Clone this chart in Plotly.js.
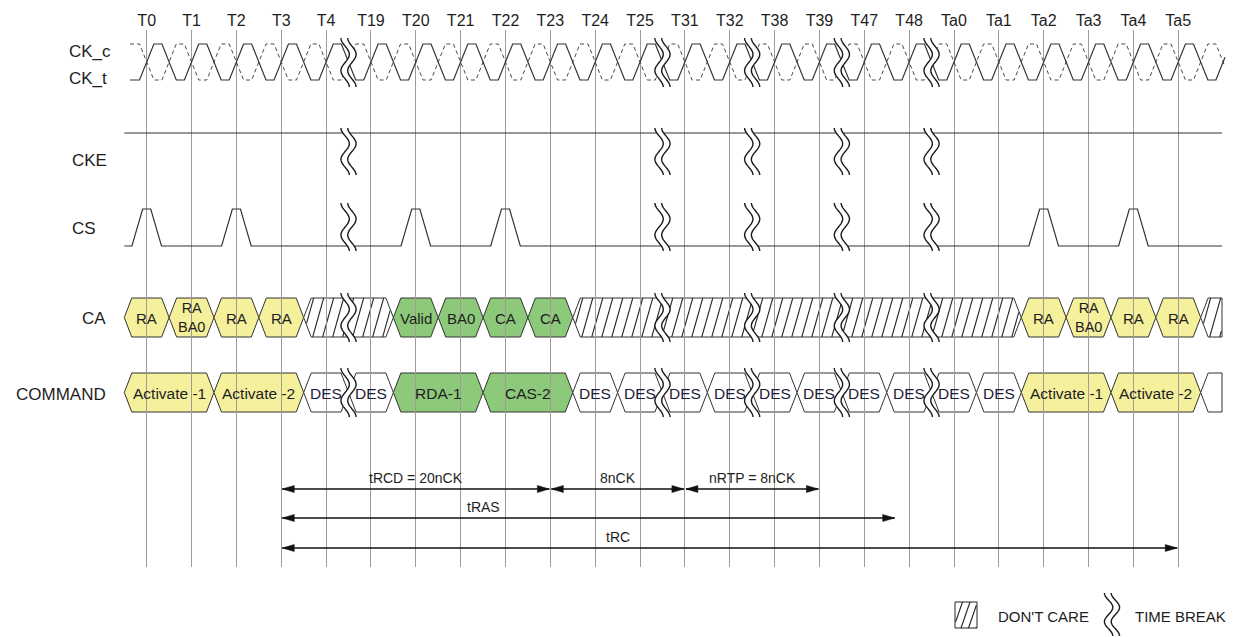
<!DOCTYPE html>
<html><head><meta charset="utf-8">
<script src="https://cdn.plot.ly/plotly-3.0.1.min.js"></script>
<style>html,body{margin:0;padding:0;background:#fff}#chart{width:1237px;height:637px}</style>
</head><body><div id="chart"></div>
<script>
// ---------------- data ----------------
const tickLabels = ['T0','T1','T2','T3','T4','T19','T20','T21','T22','T23','T24','T25','T31','T32','T38','T39','T47','T48','Ta0','Ta1','Ta2','Ta3','Ta4','Ta5'];
const rowLabels = ['CK_c','CK_t','CKE','CS','CA','COMMAND'];
const breakAfter = [4, 11, 13, 15, 17];          // time break between tick i and i+1
const csPulses = [0, 2, 6, 8, 20, 22];           // CS pulses at these ticks
const caLabels = ['RA','RA<br>BA0','RA','RA','','Valid','BA0','CA','CA','','RA','RA<br>BA0','RA','RA',''];
const caFirst  = [0,1,2,3,4,6,7,8,9,10,20,21,22,23,24];
const caLast   = [0,1,2,3,5,6,7,8,9,19,20,21,22,23,24];
const caKind   = ['act','act','act','act','x','rd','rd','rd','rd','x','act','act','act','act','x'];
const cmdLabels = ['Activate -1','Activate -2','DES','DES','RDA-1','CAS-2','DES','DES','DES','DES','DES','DES','DES','DES','DES','DES','Activate -1','Activate -2',''];
const cmdFirst  = [0,2,4,5,6,8,10,11,12,13,14,15,16,17,18,19,20,22,24];
const cmdLast   = [1,3,4,5,7,9,10,11,12,13,14,15,16,17,18,19,21,23,24];
const cmdKind   = ['act','act','des','des','rd','rd','des','des','des','des','des','des','des','des','des','des','act','act','des'];
const arrowLabels  = ['tRCD = 20nCK','8nCK','nRTP = 8nCK','tRAS','tRC'];
const arrowFrom    = [3, 9, 12, 3, 3];
const arrowTo      = [9, 12, 15, 16.7, 23];
const arrowLabelAt = [6, 10.5, 13.5, 7.5, 10.5];
const legendLabels = ["DON'T CARE", 'TIME BREAK'];

// ---------------- layout constants ----------------
const W = 1237, H = 637, X0 = 146.7, P = 44.85;
const PLOT_TOP = 30, PLOT_BOT = 567;
const ix = p => (p - X0) / P;             // pixel -> cycle units
const px = i => X0 + i * P;               // cycle units -> pixel (geometry helpers)
const xpap = p => p / W;
const ypap = p => (PLOT_BOT - p) / (PLOT_BOT - PLOT_TOP);
const ident = v => v;
const FONT = 'Liberation Sans, Arial, sans-serif';
const INK = '#1e1e1e';
const ROW_START = -0.5, ROW_END = ix(1222);
const CK_START = ix(130), CK_END = ix(1225);
const CK_HI = 44, CK_LO = 80, CKE_Y = 133, CS_HI = 209, CS_LO = 246;
const CA_T = 298, CA_B = 337, CMD_T = 373, CMD_B = 412, SLANT = 7.5;
const FILL = {act: '#f4f09c', rd: '#8dc97a', des: '#ffffff', x: '#ffffff'};
const shapes = [], annotations = [];

// ---------------- clock ----------------
function clockWave(inv) {
  const hi = inv ? CK_LO : CK_HI, lo = inv ? CK_HI : CK_LO;
  const pts = [[CK_START, lo]];
  for (let k = 0; k <= tickLabels.length; k++) {
    [[k - 0.16, lo], [k + 0.16, hi], [k + 0.34, hi], [k + 0.66, lo], [k + 0.84, lo]].forEach(p => pts.push(p));
  }
  const xs = [], ys = [];
  for (let j = 0; j < pts.length; j++) {
    const [x, y] = pts[j];
    if (x <= CK_END) { xs.push(x); ys.push(y); }
    else { const [xp, yp] = pts[j - 1]; const t = (CK_END - xp) / (x - xp); xs.push(CK_END); ys.push(yp + t * (y - yp)); break; }
  }
  return {xs, ys};
}
const ckT = clockWave(false), ckC = clockWave(true);

// ---------------- CS ----------------
const csX = [ROW_START], csY = [CS_LO];
csPulses.forEach(p => { csX.push(p - 0.33, p - 0.09, p + 0.09, p + 0.33); csY.push(CS_LO, CS_HI, CS_HI, CS_LO); });
csX.push(ROW_END); csY.push(CS_LO);

const traces = [
  {x: ckC.xs, y: ckC.ys, mode: 'lines', line: {color: '#4a4a4a', width: 1, dash: '4px,3px'}},
  {x: ckT.xs, y: ckT.ys, mode: 'lines', line: {color: '#333', width: 1.2}},
  {x: [ROW_START, ROW_END], y: [CKE_Y, CKE_Y], mode: 'lines', line: {color: '#333', width: 1.2}},
  {x: csX, y: csY, mode: 'lines', line: {color: '#333', width: 1.2}}
];

// ---------------- helpers ----------------
function pathStr(pts, cx, cy, close) {
  return pts.map((p, k) => (k ? 'L' : 'M') + cx(p[0]).toFixed(5) + ',' + cy(p[1]).toFixed(5)).join(' ') + (close ? ' Z' : '');
}
function hexPath(L, R, T, B, open) {
  const s = SLANT / P, M = (T + B) / 2;
  const pts = [[L, M], [L + s, T]];
  if (open) pts.push([R, T], [R, B]); else pts.push([R - s, T], [R, M], [R - s, B]);
  pts.push([L + s, B]);
  return pathStr(pts, ident, ident, true);
}
function hatchSegs(Lp, Rp, T, B, s, open, spacing, lean) {
  const M = (T + B) / 2, h2 = (B - T) / 2, segs = [];
  for (let xb = Lp - lean; xb < Rp; xb += spacing) {
    let a = null, b = null;
    for (let k = 0; k <= 200; k++) {
      const t = k / 200, y = B - t * (B - T), x = xb + t * lean;
      const f = Math.abs(y - M) / h2;
      const l = Lp + s * f, r = open ? Rp : Rp - s * f;
      if (x >= l + 0.6 && x <= r - 0.6) { if (a === null) a = t; b = t; }
    }
    if (a !== null && b > a) segs.push([[xb + a * lean, B - a * (B - T)], [xb + b * lean, B - b * (B - T)]]);
  }
  return segs;
}
function segPath(segs, cx, cy) { return segs.map(sg => pathStr(sg, cx, cy, false)).join(' '); }

function addBreak(xcPx, y1, y2, cx, cy, refs) {
  const A = 4.2, off = 3.4, n = 30;
  const curve = o => Array.from({length: n + 1}, (_, k) => { const f = k / n; return [xcPx + o - A * Math.cos(3 * Math.PI * f), y1 + f * (y2 - y1)]; });
  const c1 = curve(-off), c2 = curve(off);
  shapes.push(Object.assign({type: 'path', layer: 'above', path: pathStr(c1.concat(c2.slice().reverse()), cx, cy, true), fillcolor: '#ffffff', line: {width: 0}}, refs));
  shapes.push(Object.assign({type: 'path', layer: 'above', path: pathStr(c1, cx, cy, false), line: {color: '#1a1a1a', width: 1.4}}, refs));
  shapes.push(Object.assign({type: 'path', layer: 'above', path: pathStr(c2, cx, cy, false), line: {color: '#1a1a1a', width: 1.4}}, refs));
}

function addCells(first, last, kind, labels, T, B, size) {
  for (let i = 0; i < first.length; i++) {
    let L = first[i] - 0.5, R = last[i] + 0.5, open = false;
    if (R > ROW_END) { R = ROW_END; open = true; }
    shapes.push({type: 'path', xref: 'x', yref: 'y', layer: 'below', path: hexPath(L, R, T, B, open), fillcolor: FILL[kind[i]], line: {color: '#333', width: 1}});
    if (kind[i] === 'x') {
      const segs = hatchSegs(px(L), px(R), T, B, SLANT, open, 10, 11);
      shapes.push({type: 'path', xref: 'x', yref: 'y', layer: 'below', path: segPath(segs, ix, ident), line: {color: '#2a2a2a', width: 1.1}});
    }
    if (labels[i]) {
      const two = labels[i].indexOf('<br>') >= 0, c = (first[i] + last[i]) / 2, M = (T + B) / 2;
      annotations.push({x: c, y: M + (two ? -0.5 : 0.5), xref: 'x', yref: 'y', text: labels[i], showarrow: false,
        xanchor: 'center', yanchor: 'middle', font: {family: FONT, size: two ? 14.5 : size, color: kind[i] === 'des' ? '#1c1c38' : INK}});
    }
  }
}
addCells(caFirst, caLast, caKind, caLabels, CA_T, CA_B, 15);
addCells(cmdFirst, cmdLast, cmdKind, cmdLabels, CMD_T, CMD_B, 15.5);

// time breaks
const bands = [[38, 87], [128, 175], [203, 251], [293, 342], [368, 417]];
breakAfter.forEach(b => bands.forEach(([y1, y2]) => addBreak(px(b + 0.5), y1, y2, ix, ident, {xref: 'x', yref: 'y'})));

// row labels
const rowLabelX = [67, 67, 70, 70, 80, 14], rowLabelY = [51, 78, 160, 228, 318, 394];
rowLabels.forEach((t, i) => annotations.push({x: ix(rowLabelX[i]), y: rowLabelY[i], xref: 'x', yref: 'y', text: t, showarrow: false,
  xanchor: 'left', yanchor: 'middle', font: {family: FONT, size: 17, color: INK}}));

// timing arrows
const AR_Y = [489, 518, 548], arrowRow = [0, 0, 0, 1, 2];
arrowLabels.forEach((t, i) => {
  const y = AR_Y[arrowRow[i]], a = arrowFrom[i] + 1 / P, b = arrowTo[i] - 1 / P, hl = 12 / P, hh = 3.5;
  shapes.push({type: 'line', xref: 'x', yref: 'y', layer: 'above', x0: a, x1: b, y0: y, y1: y, line: {color: '#111', width: 1.3}});
  shapes.push({type: 'path', xref: 'x', yref: 'y', layer: 'above', path: pathStr([[a, y], [a + hl, y - hh], [a + hl, y + hh]], ident, ident, true), fillcolor: '#111', line: {color: '#111', width: 0.5}});
  shapes.push({type: 'path', xref: 'x', yref: 'y', layer: 'above', path: pathStr([[b, y], [b - hl, y - hh], [b - hl, y + hh]], ident, ident, true), fillcolor: '#111', line: {color: '#111', width: 0.5}});
  annotations.push({x: arrowLabelAt[i], y: y - 11.5, xref: 'x', yref: 'y', text: t, showarrow: false, xanchor: 'center', yanchor: 'middle',
    font: {family: FONT, size: 14, color: INK}});
});

// legend (below the plot area, paper coordinates)
const paperRefs = {xref: 'paper', yref: 'paper'};
shapes.push(Object.assign({type: 'rect', layer: 'above', x0: xpap(955), x1: xpap(977), y0: ypap(628), y1: ypap(602), line: {color: '#222', width: 1}, fillcolor: '#fff'}, paperRefs));
shapes.push(Object.assign({type: 'path', layer: 'above', path: segPath(hatchSegs(955, 977, 602, 628, 0, false, 7.5, 9), xpap, ypap), line: {color: '#222', width: 1.1}}, paperRefs));
addBreak(1112, 593, 636, xpap, ypap, paperRefs);
annotations.push({x: xpap(996), y: ypap(616), xref: 'paper', yref: 'paper', text: legendLabels[0], showarrow: false, xanchor: 'left', yanchor: 'middle', font: {family: FONT, size: 15, color: INK}});
annotations.push({x: xpap(1133), y: ypap(616), xref: 'paper', yref: 'paper', text: legendLabels[1], showarrow: false, xanchor: 'left', yanchor: 'middle', font: {family: FONT, size: 15, color: INK}});

const layout = {
  width: W, height: H, margin: {l: 0, r: 0, t: PLOT_TOP, b: H - PLOT_BOT, pad: 0},
  paper_bgcolor: '#fff', plot_bgcolor: '#fff', showlegend: false, hovermode: false,
  xaxis: {range: [ix(0), ix(W)], side: 'top', tickmode: 'array', tickvals: tickLabels.map((_, i) => i), ticktext: tickLabels,
    showgrid: true, gridcolor: '#a39a96', gridwidth: 1, zeroline: false, showline: false, ticks: '',
    tickfont: {family: FONT, size: 16, color: INK}, fixedrange: true},
  yaxis: {range: [PLOT_BOT, PLOT_TOP], visible: false, showgrid: false, zeroline: false, fixedrange: true},
  shapes, annotations
};
Plotly.newPlot('chart', traces, layout, {staticPlot: true, displayModeBar: false});
</script></body></html>
